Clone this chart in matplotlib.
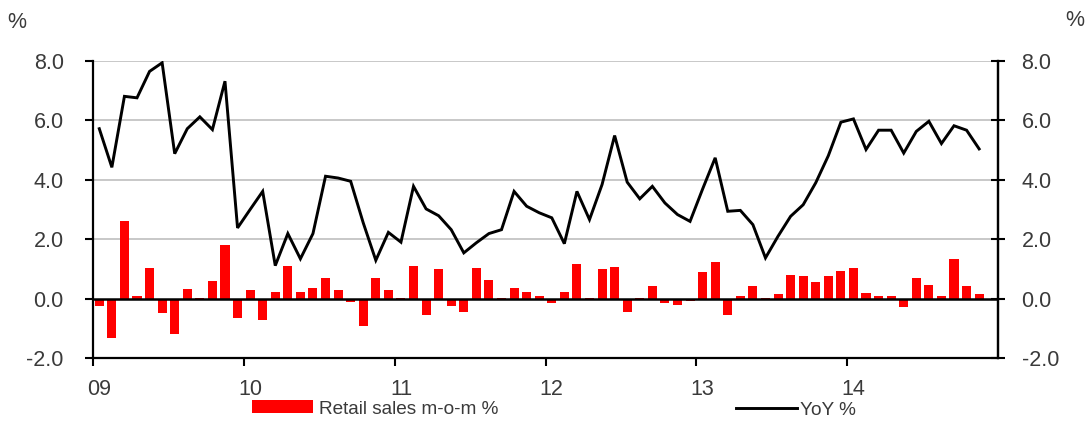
import matplotlib
matplotlib.use("Agg")
import matplotlib.pyplot as plt
from matplotlib.patches import Patch
from matplotlib.lines import Line2D
import numpy as np

# Monthly retail sales, Jan 2009 - Nov 2014
mom = [-0.25, -1.32, 2.62, 0.08, 1.04, -0.50, -1.18, 0.33, 0.02, 0.60, 1.80, -0.67,
       0.28, -0.73, 0.21, 1.11, 0.21, 0.36, 0.71, 0.28, -0.10, -0.91, 0.71, 0.28,
       0.02, 1.11, -0.54, 0.98, -0.24, -0.44, 1.02, 0.62, 0.02, 0.36, 0.21, 0.10,
       -0.15, 0.21, 1.18, 0.02, 0.98, 1.07, -0.44, 0.02, 0.42, -0.15, -0.20, -0.09,
       0.89, 1.22, -0.54, 0.10, 0.42, 0.02, 0.16, 0.81, 0.75, 0.55, 0.75, 0.92,
       1.03, 0.19, 0.10, 0.10, -0.28, 0.71, 0.46, 0.10, 1.34, 0.42, 0.16]

yoy = [5.72, 4.42, 6.81, 6.76, 7.65, 7.94, 4.88, 5.72, 6.12, 5.69, 7.32, 2.38,
       3.00, 3.61, 1.11, 2.19, 1.34, 2.19, 4.12, 4.06, 3.95, 2.55, 1.29, 2.23,
       1.90, 3.78, 3.02, 2.79, 2.32, 1.54, 1.88, 2.19, 2.32, 3.61, 3.11, 2.89,
       2.72, 1.85, 3.61, 2.66, 3.84, 5.49, 3.92, 3.36, 3.78, 3.22, 2.83, 2.60,
       3.69, 4.74, 2.94, 2.97, 2.49, 1.37, 2.10, 2.77, 3.16, 3.90, 4.81, 5.94,
       6.05, 5.02, 5.67, 5.67, 4.90, 5.63, 5.97, 5.22, 5.82, 5.67, 5.04]

year_labels = ["09", "10", "11", "12", "13", "14"]
y_ticks = [-2, 0, 2, 4, 6, 8]
grid_levels = [2, 4, 6, 8]
n_slots = 72

plt.rcParams['font.family'] = ['Liberation Sans', 'DejaVu Sans']
TEXT = '#3a3a3a'
FS = 15.5

W, H = 1087, 423
fig = plt.figure(figsize=(W / 100, H / 100), dpi=100)
ax = fig.add_axes([93 / W, 1 - 358 / H, (998 - 93) / W, (358 - 61) / H])

x = np.arange(len(mom))
ax.set_xlim(-0.5, n_slots - 0.5)
ax.set_ylim(y_ticks[0], y_ticks[-1])

for g in grid_levels:
    ax.axhline(g, color='#c8c8c8', lw=1.4, zorder=0)

ax.bar(x, mom, width=0.72, color='#ff0000', zorder=2)
ax.axhline(0, color='black', lw=1.8, zorder=3)
ax.plot(x, yoy, color='black', lw=2.1, zorder=4, solid_joinstyle='miter')

# Spines
ax.spines['top'].set_visible(False)
for side in ['left', 'right', 'bottom']:
    ax.spines[side].set_color('black')
    ax.spines[side].set_linewidth(1.6)

# X axis: tick marks at year boundaries, labels under January
ax.set_xticks(np.arange(len(year_labels)) * 12)
ax.set_xticklabels(year_labels)
ax.set_xticks(np.arange(len(year_labels)) * 12 - 0.5, minor=True)
ax.tick_params(axis='x', which='major', length=0, pad=15, labelsize=FS, labelcolor=TEXT)
ax.tick_params(axis='x', which='minor', length=6, width=1.5, direction='out', color='black')

# Left Y axis
ax.set_yticks(y_ticks)
ax.set_yticklabels([f"{v:.1f}" for v in y_ticks])
ax.tick_params(axis='y', which='major', length=6, width=1.5, direction='out',
               pad=15, labelsize=FS, labelcolor=TEXT)

# Right Y axis mirrors the left
ax2 = ax.twinx()
ax2.set_ylim(y_ticks[0], y_ticks[-1])
ax2.set_yticks(y_ticks)
ax2.set_yticklabels([f"{v:.1f}" for v in y_ticks])
ax2.tick_params(axis='y', length=10, width=1.5, direction='inout',
                pad=12, labelsize=FS, labelcolor=TEXT)
ax2.spines['top'].set_visible(False)
ax2.spines['left'].set_visible(False)
ax2.spines['bottom'].set_visible(False)
ax2.spines['right'].set_color('black')
ax2.spines['right'].set_linewidth(1.6)

fig.text(17 / W, 1 - 22 / H, '%', ha='center', va='center', fontsize=FS, color=TEXT)
fig.text(1075 / W, 1 - 20 / H, '%', ha='center', va='center', fontsize=FS, color=TEXT)

# Legends
bar_handle = Patch(facecolor='#ff0000', edgecolor='none')
line_handle = Line2D([], [], color='black', lw=2.1)
fig.legend(handles=[bar_handle], labels=['Retail sales m-o-m %'], loc='center left',
           bbox_to_anchor=(252 / W, 1 - 409 / H), frameon=False, borderpad=0,
           borderaxespad=0, handlelength=3.2, handleheight=0.65, handletextpad=0.3,
           prop={'size': 13.7}, labelcolor=TEXT)
fig.legend(handles=[line_handle], labels=['YoY %'], loc='center left',
           bbox_to_anchor=(736 / W, 1 - 410 / H), frameon=False, borderpad=0,
           borderaxespad=0, handlelength=3.2, handletextpad=0.15,
           prop={'size': 13.7}, labelcolor=TEXT)

fig.savefig('out.png', dpi=100)
